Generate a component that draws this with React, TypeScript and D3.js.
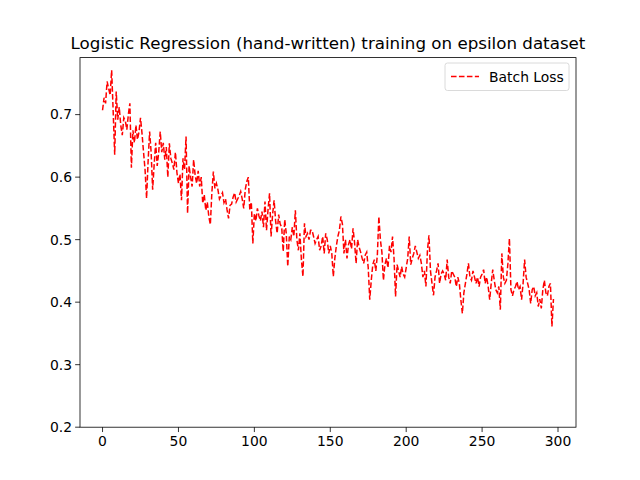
import React from 'react';
import * as d3 from 'd3';

// batch loss per step
const lossValues = [
  0.707, 0.727, 0.718, 0.753, 0.742, 0.731, 0.771, 0.705, 0.636, 0.737,
  0.692, 0.712, 0.683, 0.667, 0.695, 0.690, 0.676, 0.700, 0.718, 0.615,
  0.675, 0.655, 0.683, 0.660, 0.672, 0.695, 0.670, 0.640, 0.612, 0.566,
  0.625, 0.673, 0.640, 0.580, 0.620, 0.655, 0.618, 0.640, 0.673, 0.640,
  0.655, 0.628, 0.648, 0.600, 0.654, 0.630, 0.622, 0.612, 0.640, 0.607,
  0.590, 0.605, 0.563, 0.630, 0.612, 0.665, 0.542, 0.618, 0.600, 0.585,
  0.628, 0.603, 0.590, 0.610, 0.585, 0.600, 0.558, 0.572, 0.547, 0.560,
  0.537, 0.524, 0.575, 0.609, 0.582, 0.590, 0.580, 0.565, 0.570, 0.575,
  0.559, 0.565, 0.548, 0.534, 0.555, 0.557, 0.568, 0.575, 0.560, 0.565,
  0.570, 0.577, 0.565, 0.550, 0.580, 0.593, 0.600, 0.547, 0.560, 0.494,
  0.542, 0.530, 0.550, 0.538, 0.530, 0.545, 0.520, 0.561, 0.515, 0.548,
  0.574, 0.505, 0.540, 0.563, 0.530, 0.510, 0.540, 0.525, 0.520, 0.481,
  0.532, 0.510, 0.457, 0.505, 0.500, 0.520, 0.505, 0.547, 0.500, 0.483,
  0.510, 0.467, 0.441, 0.526, 0.505, 0.510, 0.500, 0.515, 0.515, 0.505,
  0.494, 0.500, 0.505, 0.483, 0.490, 0.505, 0.478, 0.510, 0.500, 0.478,
  0.490, 0.478, 0.441, 0.470, 0.490, 0.505, 0.515, 0.537, 0.525, 0.478,
  0.500, 0.470, 0.492, 0.500, 0.485, 0.518, 0.495, 0.462, 0.500, 0.488,
  0.480, 0.470, 0.462, 0.475, 0.480, 0.455, 0.404, 0.435, 0.460, 0.468,
  0.450, 0.475, 0.537, 0.500, 0.480, 0.435, 0.460, 0.470, 0.455, 0.490,
  0.480, 0.505, 0.470, 0.409, 0.460, 0.450, 0.440, 0.457, 0.445, 0.440,
  0.455, 0.470, 0.505, 0.460, 0.470, 0.478, 0.490, 0.480, 0.470, 0.475,
  0.462, 0.440, 0.450, 0.425, 0.483, 0.507, 0.450, 0.430, 0.411, 0.440,
  0.450, 0.462, 0.430, 0.445, 0.450, 0.445, 0.435, 0.468, 0.440, 0.430,
  0.450, 0.445, 0.440, 0.425, 0.440, 0.430, 0.404, 0.382, 0.415, 0.430,
  0.445, 0.462, 0.440, 0.435, 0.450, 0.440, 0.430, 0.440, 0.425, 0.440,
  0.445, 0.452, 0.430, 0.440, 0.425, 0.404, 0.430, 0.452, 0.435, 0.420,
  0.415, 0.425, 0.388, 0.478, 0.440, 0.430, 0.435, 0.462, 0.502, 0.420,
  0.410, 0.420, 0.425, 0.433, 0.420, 0.425, 0.404, 0.430, 0.468, 0.440,
  0.430, 0.420, 0.398, 0.420, 0.425, 0.410, 0.415, 0.393, 0.405, 0.390,
  0.420, 0.435, 0.415, 0.410, 0.425, 0.430, 0.361, 0.405,
];

const xTicks = [0, 50, 100, 150, 200, 250, 300];
const yTicks = [0.2, 0.3, 0.4, 0.5, 0.6, 0.7];
const title = 'Logistic Regression (hand-written) training on epsilon dataset';
const seriesLabel = 'Batch Loss';

const W = 640;
const H = 480;
const left = 80, right = 576, top = 57.6, bottom = 427.2;
const font = 'DejaVu Sans, sans-serif';

const App = () => {
  const n = lossValues.length;
  const pad = (n - 1) * 0.05;
  const x = d3.scaleLinear().domain([-pad, n - 1 + pad]).range([left, right]);
  const y = d3.scaleLinear().domain([0.2, 0.7912]).range([bottom, top]);

  const line = d3
    .line<number>()
    .x((d, i) => x(i))
    .y(d => y(d));

  return (
    <div style={{ position: 'absolute', left: 0, top: 0 }}>
      <svg width={W} height={H} style={{ display: 'block', background: '#fff' }}>
        <text x={(left + right) / 2} y={49} textAnchor="middle" fontFamily={font} fontSize={16.7}>
          {title}
        </text>

        <path
          d={line(lossValues) || ''}
          fill="none"
          stroke="#ff0000"
          strokeWidth={1.5}
          strokeDasharray="5.55,2.4"
        />

        <rect x={left} y={top} width={right - left} height={bottom - top} fill="none" stroke="#000" strokeWidth={0.8} />

        {xTicks.map(t => (
          <g key={`x${t}`} transform={`translate(${x(t)},${bottom})`}>
            <line y2={4.86} stroke="#000" strokeWidth={0.8} />
            <text y={19} textAnchor="middle" fontFamily={font} fontSize={13.9}>
              {t}
            </text>
          </g>
        ))}

        {yTicks.map(t => (
          <g key={`y${t}`} transform={`translate(${left},${y(t)})`}>
            <line x2={-4.86} stroke="#000" strokeWidth={0.8} />
            <text x={-8} dy="0.35em" textAnchor="end" fontFamily={font} fontSize={13.9}>
              {t.toFixed(1)}
            </text>
          </g>
        ))}

        <g transform="translate(445,63)">
          <rect width={124} height={27.5} rx={2.5} fill="#fff" fillOpacity={0.8} stroke="#d0d0d0" strokeWidth={0.8} />
          <line x1={6} x2={34} y1={13.5} y2={13.5} stroke="#ff0000" strokeWidth={1.5} strokeDasharray="5.55,2.4" />
          <text x={44} y={18.5} fontFamily={font} fontSize={13.9}>
            {seriesLabel}
          </text>
        </g>
      </svg>
    </div>
  );
};

export default App;
